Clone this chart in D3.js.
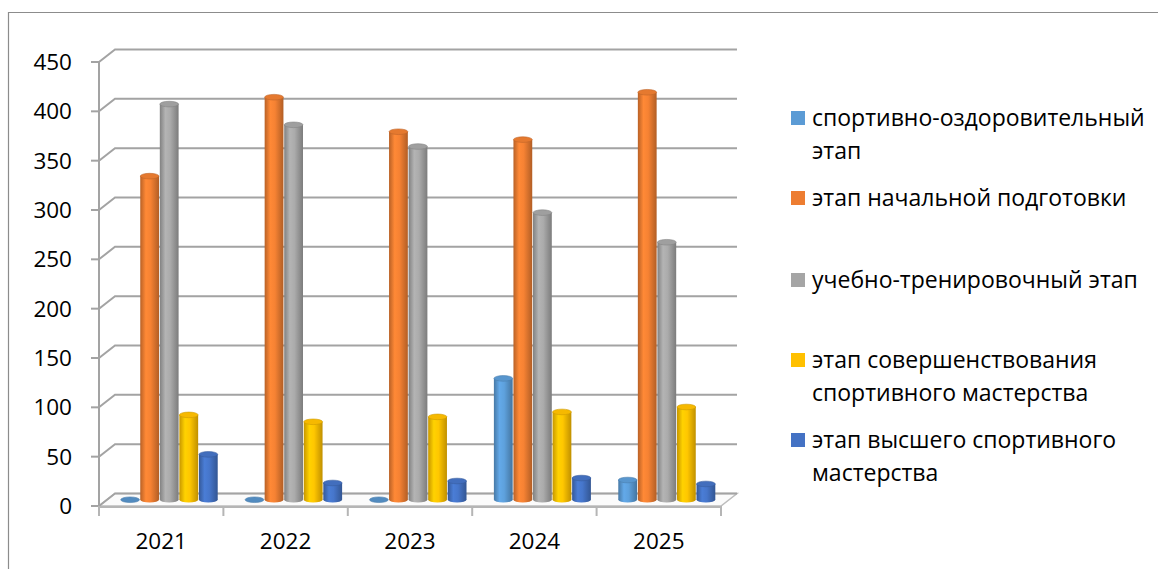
<!DOCTYPE html>
<html>
<head>
<meta charset="utf-8">
<script src="https://cdn.jsdelivr.net/npm/d3@7"></script>
<style>
  body { margin: 0; background: #fff; }
  text { font-family: "Open Sans", "Noto Sans", sans-serif; fill: #000; }
</style>
</head>
<body>
<svg id="chart" width="1158" height="569"></svg>
<script>
// данные с картинки
const years = ["2021", "2022", "2023", "2024", "2025"]
const yTicks = [0, 50, 100, 150, 200, 250, 300, 350, 400, 450]

const sportOzd = [0, 0, 0, 123, 20]
const nachPodg = [328, 408, 373, 365, 413]
const uchTren = [401, 380, 358, 291, 261]
const soversh = [86, 79, 84, 89, 94]
const vysshee = [46, 17, 19, 22, 16]

const seriesNames = [
  ["спортивно-оздоровительный", "этап"],
  ["этап начальной подготовки"],
  ["учебно-тренировочный этап"],
  ["этап совершенствования", "спортивного мастерства"],
  ["этап высшего спортивного", "мастерства"]
]
const seriesColors = ["#5B9BD5", "#ED7D31", "#A5A5A5", "#FFC000", "#4472C4"]

const series = [sportOzd, nachPodg, uchTren, soversh, vysshee].map((vals, i) => ({
  id: i, name: seriesNames[i], color: seriesColors[i], values: vals
}))

const svg = d3.select("#chart")

// рамка (только сверху и слева видна)
svg.append("path")
  .attr("d", "M8.5,569 L8.5,12.5 L1158,12.5")
  .attr("fill", "none")
  .attr("stroke", "#8c8c8c")
  .attr("stroke-width", 1.2)

// 3D сдвиг задней стенки
const dx = 16, dy = -12.5

const xScale = d3.scaleBand().domain(years).range([99, 721])
const yScale = d3.scaleLinear().domain([0, 450]).range([506, 62])

const inner = d3.scaleBand()
  .domain(series.map(s => s.id))
  .range([0, xScale.bandwidth()])
  .paddingInner(0.04)
  .paddingOuter(0.7)

const grid = svg.append("g")

// пол
grid.append("path")
  .attr("d", `M99,${yScale(0)} L721,${yScale(0)} L${721 + dx},${yScale(0) + dy} L${99 + dx},${yScale(0) + dy} Z`)
  .attr("fill", "#fbfbfb")
  .attr("stroke", "#bdbdbd")
  .attr("stroke-width", 1.5)

// линии сетки на задней стенке и диагонали на левой
grid.selectAll("path.gl")
  .data(yTicks)
  .join("path")
  .attr("class", "gl")
  .attr("d", d => `M99,${yScale(d)} L${99 + dx},${yScale(d) + dy} L${721 + dx},${yScale(d) + dy}`)
  .attr("fill", "none")
  .attr("stroke", "#a3a3a3")
  .attr("stroke-width", 2)

// передняя ось Y
grid.append("line")
  .attr("x1", 99).attr("x2", 99)
  .attr("y1", yScale(450)).attr("y2", yScale(0) + 1)
  .attr("stroke", "#a3a3a3").attr("stroke-width", 2)

grid.selectAll("line.yt")
  .data(yTicks)
  .join("line")
  .attr("class", "yt")
  .attr("x1", 91).attr("x2", 99)
  .attr("y1", d => yScale(d)).attr("y2", d => yScale(d))
  .attr("stroke", "#a3a3a3").attr("stroke-width", 2)

svg.selectAll("text.yl")
  .data(yTicks)
  .join("text")
  .attr("class", "yl")
  .attr("x", 72)
  .attr("y", d => yScale(d))
  .attr("dy", "0.36em")
  .attr("text-anchor", "end")
  .attr("font-size", "22.5px")
  .text(d => d)

// передний край пола и деления по X
grid.append("line")
  .attr("x1", 99).attr("x2", 721)
  .attr("y1", yScale(0) + 1).attr("y2", yScale(0) + 1)
  .attr("stroke", "#b5b5b5").attr("stroke-width", 2)

grid.selectAll("line.xt")
  .data(years.map(y => xScale(y)).concat([721]))
  .join("line")
  .attr("class", "xt")
  .attr("x1", d => d).attr("x2", d => d)
  .attr("y1", yScale(0)).attr("y2", yScale(0) + 10)
  .attr("stroke", "#b5b5b5").attr("stroke-width", 2)

svg.selectAll("text.xl")
  .data(years)
  .join("text")
  .attr("class", "xl")
  .attr("x", d => xScale(d) + xScale.bandwidth() / 2)
  .attr("y", 541)
  .attr("dy", "0.36em")
  .attr("text-anchor", "middle")
  .attr("font-size", "22.5px")
  .text(d => d)

// градиенты для цилиндров
const defs = svg.append("defs")
series.forEach(s => {
  const c = d3.color(s.color)
  const g = defs.append("linearGradient")
    .attr("id", "cyl" + s.id)
    .attr("x1", "0").attr("x2", "1").attr("y1", "0").attr("y2", "0")
  g.append("stop").attr("offset", "0%").attr("stop-color", c.darker(0.7))
  g.append("stop").attr("offset", "30%").attr("stop-color", c.brighter(0.25))
  g.append("stop").attr("offset", "55%").attr("stop-color", c.brighter(0.1))
  g.append("stop").attr("offset", "100%").attr("stop-color", c.darker(0.8))
})

// цилиндры стоят на середине глубины
const bx = dx / 2, by = dy / 2
const ry = 2.8

const bars = svg.append("g")
series.forEach(s => {
  const g = bars.append("g")
  s.values.forEach((v, i) => {
    const x0 = xScale(years[i]) + inner(s.id) + bx
    const w = inner.bandwidth()
    const yTop = yScale(v) + by
    const yBot = yScale(0) + by
    if (v > 0) {
      g.append("ellipse")
        .attr("cx", x0 + w / 2).attr("cy", yBot)
        .attr("rx", w / 2).attr("ry", ry)
        .attr("fill", `url(#cyl${s.id})`)
      g.append("rect")
        .attr("x", x0).attr("y", yTop)
        .attr("width", w).attr("height", yBot - yTop)
        .attr("fill", `url(#cyl${s.id})`)
    }
    g.append("ellipse")
      .attr("cx", x0 + w / 2).attr("cy", yTop)
      .attr("rx", w / 2).attr("ry", ry)
      .attr("fill", d3.color(s.color).darker(v > 0 ? 0.1 : 0.3))
      .attr("stroke", d3.color(s.color).darker(0.6))
      .attr("stroke-width", 0.6)
  })
})

// легенда
const legendY = [118, 198, 280, 360, 440]
const legend = svg.append("g")
  .selectAll("g")
  .data(series)
  .join("g")
  .attr("transform", (d, i) => `translate(791,${legendY[i]})`)

legend.append("rect")
  .attr("x", 0).attr("y", -7)
  .attr("width", 14).attr("height", 14)
  .attr("fill", d => d.color)

legend.append("text")
  .attr("x", 21)
  .attr("font-size", "23px")
  .selectAll("tspan")
  .data(d => d.name)
  .join("tspan")
  .attr("x", 21)
  .attr("y", (d, i) => i * 33)
  .attr("dy", "0.36em")
  .text(d => d)
</script>
</body>
</html>
